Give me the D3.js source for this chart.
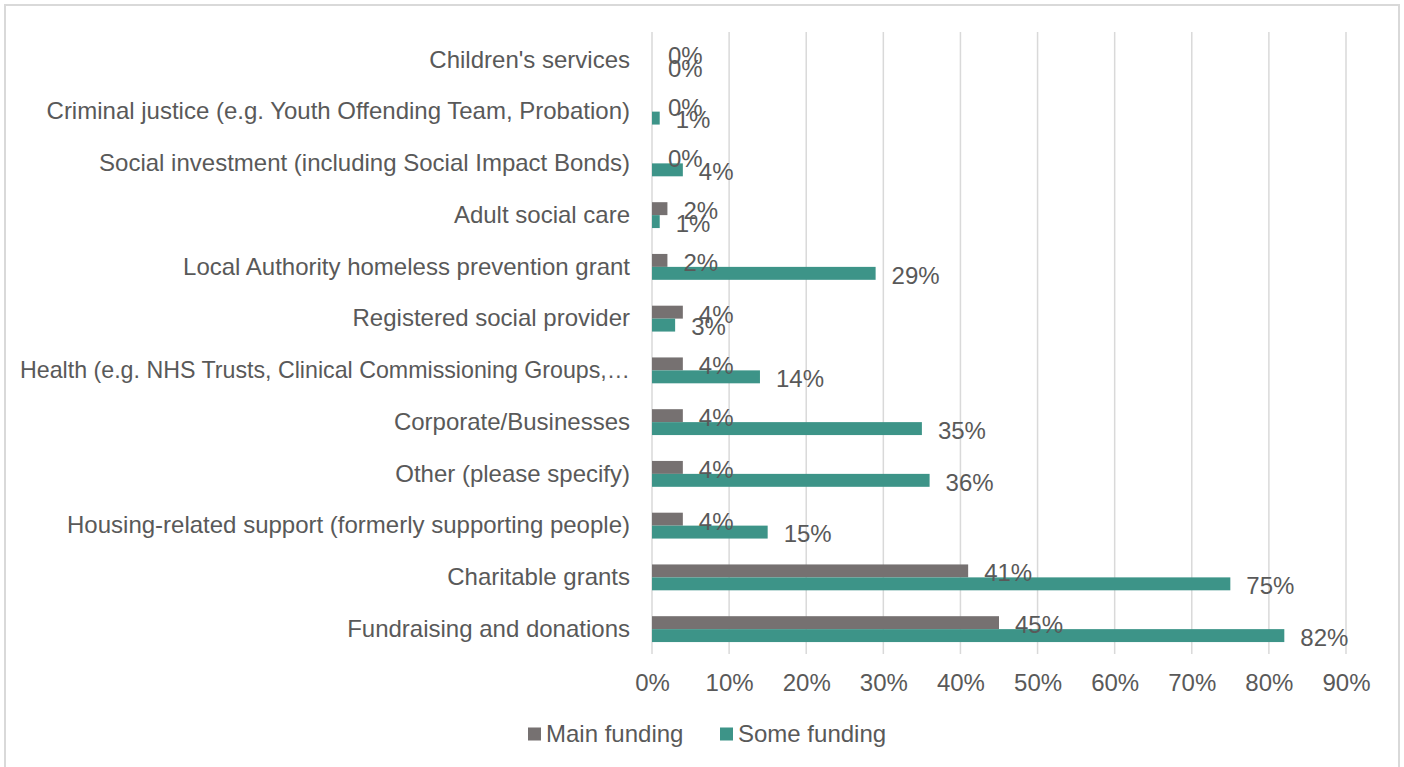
<!DOCTYPE html>
<html>
<head>
<meta charset="utf-8">
<script src="https://cdn.jsdelivr.net/npm/d3@7"></script>
<style>
  html, body { margin: 0; padding: 0; background: #ffffff; }
  svg { display: block; }
  text { font-family: "Liberation Sans", Arial, sans-serif; fill: #595959; }
</style>
</head>
<body>
<svg id="chart" width="1404" height="767"></svg>
<script>
// Funding sources, listed top to bottom
const categories = [
  "Children's services",
  "Criminal justice (e.g. Youth Offending Team, Probation)",
  "Social investment (including Social Impact Bonds)",
  "Adult social care",
  "Local Authority homeless prevention grant",
  "Registered social provider",
  "Health (e.g. NHS Trusts, Clinical Commissioning Groups,\u2026",
  "Corporate/Businesses",
  "Other (please specify)",
  "Housing-related support (formerly supporting people)",
  "Charitable grants",
  "Fundraising and donations"
];

// Share of organisations (%) per source
const mainFunding = [0, 0, 0, 2, 2, 4, 4, 4, 4, 4, 41, 45];
const someFunding = [0, 1, 4, 1, 29, 3, 14, 35, 36, 15, 75, 82];

const seriesNames = ["Main funding", "Some funding"];
const seriesColors = ["#767171", "#3d9488"];
const tickValues = [0, 10, 20, 30, 40, 50, 60, 70, 80, 90];

const svg = d3.select("#chart");
const W = 1404, H = 767;

// Chart frame
svg.append("rect")
  .attr("x", 5).attr("y", 5)
  .attr("width", 1394).attr("height", H + 10)
  .attr("fill", "#ffffff")
  .attr("stroke", "#d9d9d9")
  .attr("stroke-width", 2);

const x = d3.scaleLinear().domain([0, 90]).range([652, 1346]);
const y = d3.scaleBand().domain(categories).range([34, 655])
  .paddingInner(0.5).paddingOuter(0.25);
const sub = d3.scaleBand().domain(seriesNames).range([0, y.bandwidth()]);

// Vertical gridlines
svg.append("g")
  .selectAll("line")
  .data(tickValues)
  .join("line")
  .attr("x1", d => x(d)).attr("x2", d => x(d))
  .attr("y1", 32).attr("y2", 654)
  .attr("stroke", "#d9d9d9")
  .attr("stroke-width", 1.5);

// X axis labels
const xAxis = d3.axisBottom(x).tickValues(tickValues)
  .tickFormat(d => d + "%").tickSize(0).tickPadding(0);
const gx = svg.append("g").attr("transform", "translate(0,683)").call(xAxis);
gx.select(".domain").remove();
gx.selectAll("text")
  .attr("dy", "0.35em")
  .attr("y", 0)
  .style("font-size", "24px")
  .style("font-family", "'Liberation Sans', Arial, sans-serif")
  .attr("fill", "#595959");

// Category labels; the longest one is squeezed to stay inside the frame
const maxLabelWidth = 610;
const yAxis = d3.axisLeft(y).tickSize(0).tickPadding(0);
const gy = svg.append("g").attr("transform", "translate(630,0)").call(yAxis);
gy.select(".domain").remove();
gy.selectAll("text")
  .style("font-size", "24px")
  .style("font-family", "'Liberation Sans', Arial, sans-serif")
  .attr("fill", "#595959")
  .each(function () {
    if (this.getComputedTextLength() > maxLabelWidth) {
      d3.select(this)
        .attr("textLength", maxLabelWidth)
        .attr("lengthAdjust", "spacingAndGlyphs");
    }
  });

const rows = categories.map((c, i) => ({
  cat: c,
  values: [mainFunding[i], someFunding[i]]
}));

const groups = svg.append("g")
  .selectAll("g")
  .data(rows)
  .join("g")
  .attr("transform", d => `translate(0,${y(d.cat)})`);

// Bars
groups.selectAll("rect")
  .data(d => d.values.map((v, j) => ({ v, s: seriesNames[j], c: seriesColors[j] })))
  .join("rect")
  .attr("x", x(0))
  .attr("y", d => sub(d.s))
  .attr("width", d => x(d.v) - x(0))
  .attr("height", sub.bandwidth())
  .attr("fill", d => d.c);

// Value labels
groups.selectAll("text.val")
  .data(d => d.values.map((v, j) => ({ v, s: seriesNames[j] })))
  .join("text")
  .attr("class", "val")
  .attr("x", d => x(d.v) + 16)
  .attr("y", d => sub(d.s) + sub.bandwidth() / 2 + 2)
  .attr("dy", "0.35em")
  .style("font-size", "24px")
  .text(d => d.v + "%");

// Legend
const legendItems = [
  { name: seriesNames[0], color: seriesColors[0], x: 528 },
  { name: seriesNames[1], color: seriesColors[1], x: 720 }
];
const lg = svg.append("g").selectAll("g")
  .data(legendItems)
  .join("g")
  .attr("transform", d => `translate(${d.x},734)`);
lg.append("rect")
  .attr("x", 0).attr("y", -6.5)
  .attr("width", 13).attr("height", 13)
  .attr("fill", d => d.color);
lg.append("text")
  .attr("x", 18).attr("y", 0).attr("dy", "0.35em")
  .style("font-size", "24px")
  .text(d => d.name);
</script>
</body>
</html>
